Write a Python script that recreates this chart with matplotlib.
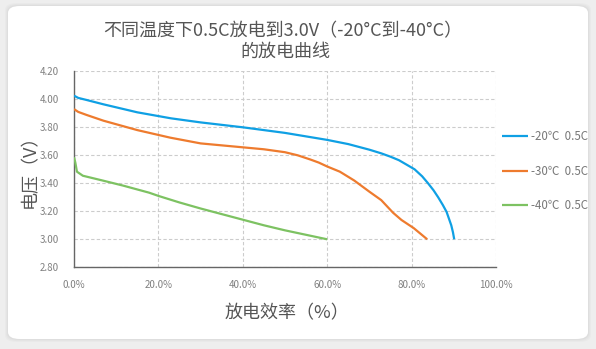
import matplotlib
matplotlib.use("Agg")
import matplotlib.pyplot as plt
from matplotlib.patches import FancyBboxPatch

plt.rcParams["font.family"] = ["Noto Sans CJK SC", "DejaVu Sans"]

# ── Data ──────────────────────────────────────────────────────────────────────
x_20 = [0, 1, 3, 7, 15, 23, 30, 40, 50, 60, 65, 70, 72.8, 75, 77, 79, 80.7, 82.5,
        83.9, 85.2, 86.3, 87.4, 88.3, 89.4, 89.8, 90.1]
v_20 = [4.026, 4.01, 3.995, 3.964, 3.907, 3.864, 3.835, 3.80, 3.76, 3.71, 3.68,
        3.64, 3.614, 3.59, 3.565, 3.53, 3.50, 3.45, 3.40, 3.35, 3.30, 3.245,
        3.195, 3.10, 3.05, 3.00]

x_30 = [0, 1, 3, 7, 15, 22.8, 30, 40, 45, 50, 53, 56, 58, 60, 63, 66.4, 70,
        72.8, 75.6, 77.6, 80.5, 83.7]
v_30 = [3.93, 3.91, 3.888, 3.847, 3.78, 3.726, 3.685, 3.657, 3.643, 3.622, 3.60,
        3.57, 3.548, 3.52, 3.483, 3.42, 3.34, 3.28, 3.19, 3.138, 3.08, 3.00]

x_40 = [0, 0.3, 0.7, 2.1, 6.9, 11.7, 17.8, 20, 25, 30, 35, 40, 45, 50, 55, 60]
v_40 = [3.586, 3.55, 3.483, 3.454, 3.419, 3.383, 3.333, 3.31, 3.263, 3.22, 3.18,
        3.14, 3.10, 3.064, 3.032, 3.00]

labels = ["-20℃  0.5C", "-30℃  0.5C", "-40℃  0.5C"]
colors = ["#0FA0E4", "#EE7B2E", "#7DC262"]

x_ticks = [0, 20, 40, 60, 80, 100]
y_ticks = [2.80, 3.00, 3.20, 3.40, 3.60, 3.80, 4.00, 4.20]

# ── Figure & card ─────────────────────────────────────────────────────────────
W, H = 596, 349
fig = plt.figure(figsize=(W / 100, H / 100), dpi=100, facecolor="#EEEEEE")

for i, a in enumerate([0.05, 0.06, 0.08]):
    d = 3 - i
    fig.patches.append(FancyBboxPatch(
        ((8 - d) / W, (10 - d) / H), (580 + 2 * d) / W, (333 + 2 * d) / H,
        boxstyle="round,pad=0,rounding_size=0.02", transform=fig.transFigure,
        facecolor="#999999", edgecolor="none", alpha=a, zorder=0))
fig.patches.append(FancyBboxPatch(
    (8 / W, 10 / H), 580 / W, 333 / H,
    boxstyle="round,pad=0,rounding_size=0.02", transform=fig.transFigure,
    facecolor="white", edgecolor="none", zorder=1))

ax = fig.add_axes([74 / W, 1 - 267.3 / H, (496 - 74) / W, (267.3 - 71.3) / H])
ax.set_facecolor("none")
ax.set_zorder(2)

for xs, vs, c, lab in zip([x_20, x_30, x_40], [v_20, v_30, v_40], colors, labels):
    ax.plot(xs, vs, color=c, lw=1.6, label=lab, solid_capstyle="butt",
            solid_joinstyle="round", zorder=3)

ax.set_xlim(0, 100)
ax.set_ylim(2.8, 4.2)
ax.set_xticks(x_ticks)
ax.set_xticklabels([f"{t:.1f}%" for t in x_ticks])
ax.set_yticks(y_ticks)
ax.set_yticklabels([f"{t:.2f}" for t in y_ticks])
ax.tick_params(length=0, labelsize=7, colors="#808080")
ax.tick_params(axis="y", pad=11)
ax.tick_params(axis="x", pad=9)

ax.grid(True, color="#CCCCCC", linestyle=(0, (3, 2)), lw=0.8)
for s in ["top", "right"]:
    ax.spines[s].set_visible(False)
for s in ["left", "bottom"]:
    ax.spines[s].set_color("#666666")
    ax.spines[s].set_linewidth(1.0)

ax.set_xlabel("放电效率（%）", fontsize=13, color="#555555")
ax.xaxis.set_label_coords((287 - 74) / 422, (267.3 - 313) / 196)
ax.xaxis.label.set_va("center")
ax.set_ylabel("电压（V）", fontsize=13, color="#555555")
ax.yaxis.set_label_coords((30 - 74) / 422, (267.3 - 167) / 196)
ax.yaxis.label.set_va("center")

fig.text(283 / W, 1 - 31.5 / H, "不同温度下0.5C放电到3.0V（-20°C到-40°C）",
         ha="center", va="center", fontsize=13, color="#555555")
fig.text(285 / W, 1 - 52 / H, "的放电曲线",
         ha="center", va="center", fontsize=13, color="#555555")

leg = ax.legend(loc="center left", bbox_to_anchor=(1.014, 0.491), frameon=False,
                fontsize=8.3, handlelength=2.25, handletextpad=0.26,
                labelspacing=1.85, borderpad=0, borderaxespad=0,
                labelcolor="#777777")

fig.savefig("out.png", dpi=100, facecolor=fig.get_facecolor())
